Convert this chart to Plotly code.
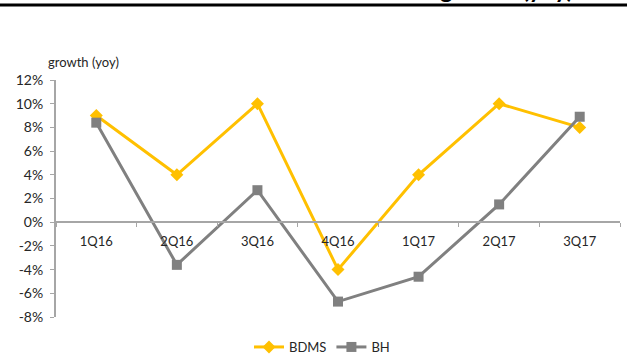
import plotly.graph_objects as go

quarters = ["1Q16", "2Q16", "3Q16", "4Q16", "1Q17", "2Q17", "3Q17"]
bdms = [9.0, 4.0, 10.0, -4.0, 4.0, 10.0, 8.0]
bh = [8.4, -3.6, 2.7, -6.7, -4.6, 1.5, 8.9]
y_ticks = list(range(-8, 13, 2))

W, H = 627, 354
L, R, T, B = 56, 7, 80, 37
ph = H - T - B
pw = W - L - R
font = "Lato, 'Open Sans', sans-serif"

fig = go.Figure()
fig.add_trace(go.Scatter(x=quarters, y=bdms, name="BDMS", mode="lines+markers",
                         line=dict(color="#FFC000", width=3),
                         marker=dict(symbol="diamond", size=10, color="#FFC000")))
fig.add_trace(go.Scatter(x=quarters, y=bh, name="BH", mode="lines+markers",
                         line=dict(color="#808080", width=3),
                         marker=dict(symbol="square", size=10, color="#808080")))

fig.update_layout(
    width=W, height=H,
    margin=dict(l=L, r=R, t=T, b=B, autoexpand=False),
    paper_bgcolor="white", plot_bgcolor="white",
    font=dict(family=font, size=13, color="#262626"),
    showlegend=True,
    legend=dict(orientation="h", x=(322 - L) / pw, xanchor="center",
                y=-(347 - (H - B)) / ph, yanchor="middle",
                font=dict(size=13, color="#262626"), itemwidth=30,
                tracegroupgap=0),
    xaxis=dict(type="category", categoryorder="array", categoryarray=quarters,
               range=[-0.5, len(quarters) - 0.5],
               anchor="free", position=(0 - min(y_ticks)) / (max(y_ticks) - min(y_ticks)),
               showline=True, linecolor="#A6A6A6", linewidth=2,
               ticks="outside", tickson="boundaries", ticklen=4, tickcolor="#A6A6A6",
               tickwidth=1, showgrid=False, zeroline=False,
               tickfont=dict(size=13, color="#262626"), ticklabelstandoff=7),
    yaxis=dict(range=[min(y_ticks), max(y_ticks)], tickvals=y_ticks,
               ticktext=[f"{v}%" for v in y_ticks],
               showline=True, linecolor="#A6A6A6", linewidth=2,
               ticks="outside", ticklen=4, tickcolor="#A6A6A6", tickwidth=1,
               showgrid=False, zeroline=False, ticklabelstandoff=4,
               tickfont=dict(size=14, color="#262626")),
)

fig.add_annotation(text="growth (yoy)", xref="paper", yref="paper",
                   x=(83 - L) / pw, y=1 + (80 - 62) / ph, xanchor="center", yanchor="middle",
                   showarrow=False, font=dict(size=13, color="#262626"))

# clipped report title at the very top
fig.add_annotation(text="<b>Revenue growth (yoy)</b>", xref="paper", yref="paper",
                   x=(575 - L) / pw, y=1 + (T - 5) / ph, xanchor="right", yanchor="bottom",
                   showarrow=False, font=dict(size=24, color="black"))
fig.add_shape(type="line", xref="paper", yref="paper",
              x0=-L / pw, x1=(W - L) / pw, y0=1 + (T - 5) / ph, y1=1 + (T - 5) / ph,
              line=dict(color="black", width=3))

fig.write_html("out.html")
